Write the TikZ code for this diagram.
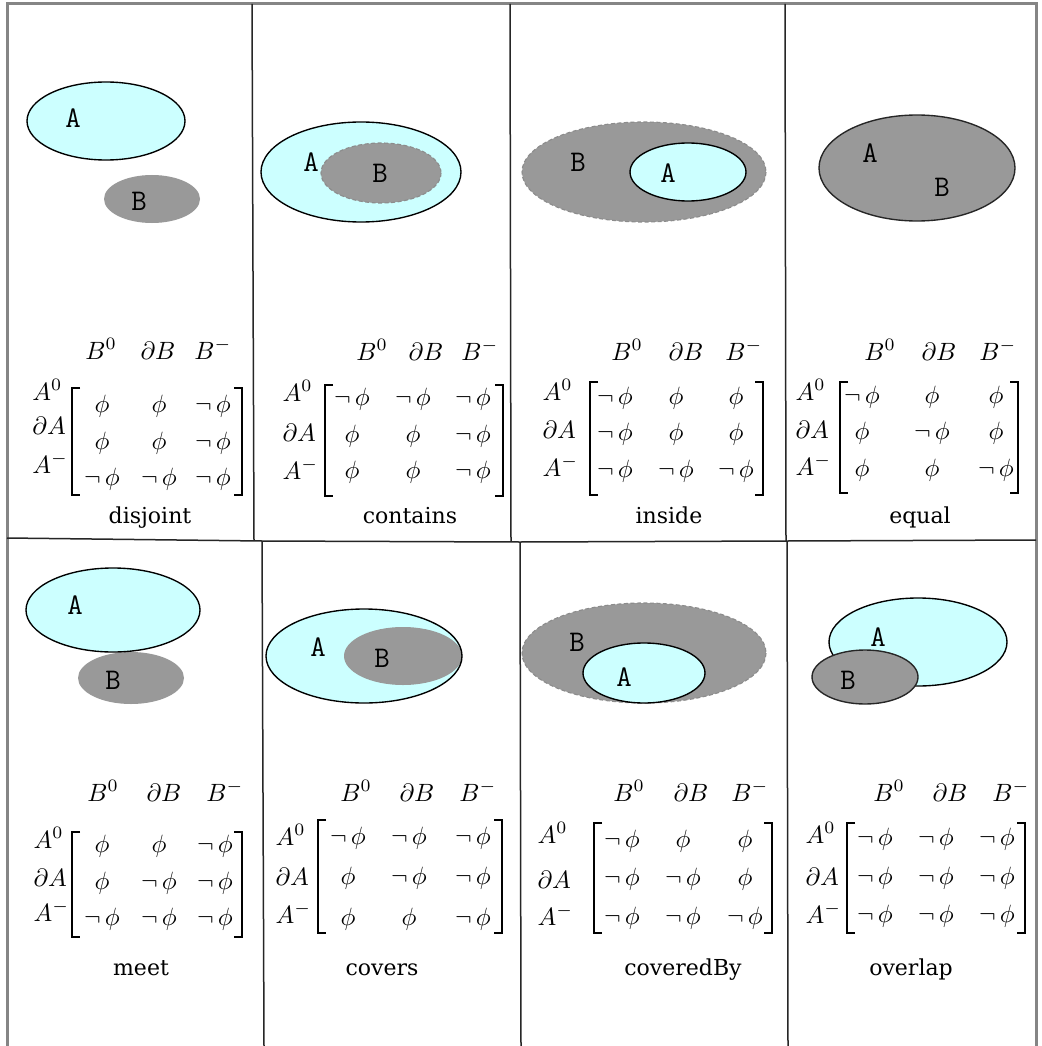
\documentclass[tikz,border=0pt]{standalone}
\usepackage{fontspec}
\newfontfamily\capfont{DejaVu Serif}
\definecolor{acyan}{HTML}{CCFFFF}
\definecolor{bgray}{HTML}{999999}
\definecolor{framegray}{HTML}{858585}
\newcommand\myP{\phi}
\newcommand\myN{\neg\,\phi}
\newcommand\hdrs[5]{%
  \node[mth] (#1h1) at (#3,#2) {$B^{0}$};
  \node[mth] (#1h2) at (#4,#2) {$\partial B$};
  \node[mth] (#1h3) at (#5,#2) {$B^{-}$};}
\newcommand\rlabs[5]{%
  \node[mth,anchor=base west] (#1l1) at (#2,#3) {$A^{0}$};
  \node[mth,anchor=base west] (#1l2) at (#2,#4) {$\partial A$};
  \node[mth,anchor=base west] (#1l3) at (#2,#5) {$A^{-}$};}
\newcommand\mrow[8]{%
  \node[mth] (#1c1) at (#3,#2) {$#6$};
  \node[mth] (#1c2) at (#4,#2) {$#7$};
  \node[mth] (#1c3) at (#5,#2) {$#8$};}
\newcommand\mybrk[5]{%
  \coordinate (#1lt) at (#2,#4); \coordinate (#1lb) at (#2,#5);
  \coordinate (#1rt) at (#3,#4); \coordinate (#1rb) at (#3,#5);
  \draw[bline] ([xshift=3.2pt]#1lt) -- (#1lt) -- (#1lb) -- ([xshift=3.2pt]#1lb);
  \draw[bline] ([xshift=-3.2pt]#1rt) -- (#1rt) -- (#1rb) -- ([xshift=-3.2pt]#1rb);}
\begin{document}
\begin{tikzpicture}[x=0.4pt,y=-0.4pt,
  regA/.style={fill=acyan,draw=black,line width=0.55pt},
  regB/.style={fill=bgray},
  regBd/.style={fill=bgray,draw=black!45,dash pattern=on 1.6pt off 1pt,line width=0.45pt},
  regBs/.style={fill=bgray,draw=black!85,line width=0.55pt},
  lab/.style={font=\ttfamily\fontsize{12}{14}\selectfont,inner sep=0pt},
  mth/.style={font=\fontsize{10.3}{12}\selectfont,inner sep=0pt,anchor=base},
  capt/.style={font=\capfont\fontsize{8.8}{10}\selectfont,inner sep=0pt,anchor=base},
  bline/.style={line width=0.7pt},
  frameline/.style={draw=framegray,line width=1.2pt},
  divline/.style={draw=black!85,line width=0.6pt}]
\useasboundingbox (0,0) rectangle (1041,1046);
\fill[white] (0,0) rectangle (1041,1046);
% frame and dividers
\draw[frameline] (7,1046) -- (7,4) -- (1036,4) -- (1036,1046);
\draw[divline] (252,4) -- (254,540);
\draw[divline] (510,4) -- (511,541);
\draw[divline] (785,4) -- (786,541);
\draw[divline] (7,538) -- (262,541) -- (520,542) -- (787,541) -- (1036,540);
\draw[divline] (262,541) -- (264,1046);
\draw[divline] (520,542) -- (521,1046);
\draw[divline] (787,541) -- (788,1046);

% ---------- P1 disjoint
\fill[regB] (152,199) ellipse [x radius=48, y radius=24];
\filldraw[regA] (106,121) ellipse [x radius=79, y radius=39];
\node[lab] (p1A) at (73,118) {A};
\node[lab] (p1B) at (139,201) {B};
\hdrs{p1}{359}{101}{158}{213}
\rlabs{p1}{32}{400}{434}{473}
\mrow{p1r1}{412}{102}{159}{213}{\myP}{\myP}{\myN}
\mrow{p1r2}{449}{102}{159}{213}{\myP}{\myP}{\myN}
\mrow{p1r3}{485}{102}{159}{213}{\myN}{\myN}{\myN}
\mybrk{p1b}{72}{242}{388}{495}
\node[capt] (p1cap) at (150,523) {disjoint};

% ---------- P2 contains
\filldraw[regA] (361,172) ellipse [x radius=100, y radius=50];
\filldraw[regBd] (381,173) ellipse [x radius=60, y radius=30];
\node[lab] (p2A) at (311,162) {A};
\node[lab] (p2B) at (380,173) {B};
\hdrs{p2}{360}{372}{426}{480}
\rlabs{p2}{282}{401}{441}{479}
\mrow{p2r1}{405}{352}{413}{473}{\myN}{\myN}{\myN}
\mrow{p2r2}{442}{352}{413}{473}{\myP}{\myP}{\myN}
\mrow{p2r3}{478}{352}{413}{473}{\myP}{\myP}{\myN}
\mybrk{p2b}{325}{503}{385}{496}
\node[capt] (p2cap) at (410,523) {contains};

% ---------- P3 inside
\filldraw[regBd] (644,172) ellipse [x radius=122, y radius=50];
\filldraw[regA] (688,172) ellipse [x radius=58, y radius=29];
\node[lab] (p3B) at (578,162) {B};
\node[lab] (p3A) at (668,173) {A};
\hdrs{p3}{360}{627}{686}{744}
\rlabs{p3}{542}{400}{438}{476}
\mrow{p3r1}{404}{615}{676}{736}{\myN}{\myP}{\myP}
\mrow{p3r2}{440}{615}{676}{736}{\myN}{\myP}{\myP}
\mrow{p3r3}{477}{615}{676}{736}{\myN}{\myN}{\myN}
\mybrk{p3b}{590}{763}{382}{495}
\node[capt] (p3cap) at (669,523) {inside};

% ---------- P4 equal
\filldraw[regBs] (917,168) ellipse [x radius=98, y radius=53];
\node[lab] (p4A) at (870,153) {A};
\node[lab] (p4B) at (942,187) {B};
\hdrs{p4}{360}{880}{939}{998}
\rlabs{p4}{795}{400}{438}{475}
\mrow{p4r1}{403}{862}{932}{996}{\myN}{\myP}{\myP}
\mrow{p4r2}{439}{862}{932}{996}{\myP}{\myN}{\myP}
\mrow{p4r3}{476}{862}{932}{996}{\myP}{\myP}{\myN}
\mybrk{p4b}{840}{1018}{382}{493}
\node[capt] (p4cap) at (920,523) {equal};

% ---------- P5 meet
\fill[regB] (131,678) ellipse [x radius=53, y radius=26];
\filldraw[regA] (113,610) ellipse [x radius=87, y radius=42];
\node[lab] (p5A) at (75,605) {A};
\node[lab] (p5B) at (113,680) {B};
\hdrs{p5}{801}{103}{164}{225}
\rlabs{p5}{33}{848}{886}{921}
\mrow{p5r1}{852}{102}{159}{215}{\myP}{\myP}{\myN}
\mrow{p5r2}{889}{102}{159}{215}{\myP}{\myN}{\myN}
\mrow{p5r3}{925}{102}{159}{215}{\myN}{\myN}{\myN}
\mybrk{p5b}{72}{242}{832}{937}
\node[capt] (p5cap) at (141,975) {meet};

% ---------- P6 covers
\fill[acyan] (364,656) ellipse [x radius=98, y radius=47];
\fill[regB] (403,656) ellipse [x radius=59, y radius=29];
\draw[regA,fill=none] (364,656) ellipse [x radius=98, y radius=47];
\node[lab] (p6A) at (318,647) {A};
\node[lab] (p6B) at (382,658) {B};
\hdrs{p6}{801}{356}{417}{478}
\rlabs{p6}{275}{845}{885}{923}
\mrow{p6r1}{844}{348}{409}{473}{\myN}{\myN}{\myN}
\mrow{p6r2}{884}{348}{409}{473}{\myP}{\myN}{\myN}
\mrow{p6r3}{925}{348}{409}{473}{\myP}{\myP}{\myN}
\mybrk{p6b}{318}{502}{820}{933}
\node[capt] (p6cap) at (382,975) {covers};

% ---------- P7 coveredBy
\filldraw[regBd] (644,653) ellipse [x radius=122, y radius=50];
\filldraw[regA] (644,673) ellipse [x radius=61, y radius=30];
\node[lab] (p7B) at (577,642) {B};
\node[lab] (p7A) at (624,677) {A};
\hdrs{p7}{801}{629}{691}{750}
\rlabs{p7}{537}{843}{888}{925}
\mrow{p7r1}{847}{622}{683}{745}{\myN}{\myP}{\myP}
\mrow{p7r2}{885}{622}{683}{745}{\myN}{\myN}{\myP}
\mrow{p7r3}{924}{622}{683}{745}{\myN}{\myN}{\myN}
\mybrk{p7b}{594}{772}{823}{933}
\node[capt] (p7cap) at (683,975) {coveredBy};

% ---------- P8 overlap
\filldraw[regA] (918,642) ellipse [x radius=89, y radius=44];
\filldraw[regBs] (865,677) ellipse [x radius=53, y radius=27];
\node[lab] (p8A) at (878,637) {A};
\node[lab] (p8B) at (848,680) {B};
\hdrs{p8}{801}{889}{950}{1011}
\rlabs{p8}{805}{843}{885}{923}
\mrow{p8r1}{845}{875}{936}{997}{\myN}{\myN}{\myN}
\mrow{p8r2}{884}{875}{936}{997}{\myN}{\myN}{\myN}
\mrow{p8r3}{922}{875}{936}{997}{\myN}{\myN}{\myN}
\mybrk{p8b}{847}{1025}{823}{933}
\node[capt] (p8cap) at (911,975) {overlap};
\end{tikzpicture}
\end{document}
